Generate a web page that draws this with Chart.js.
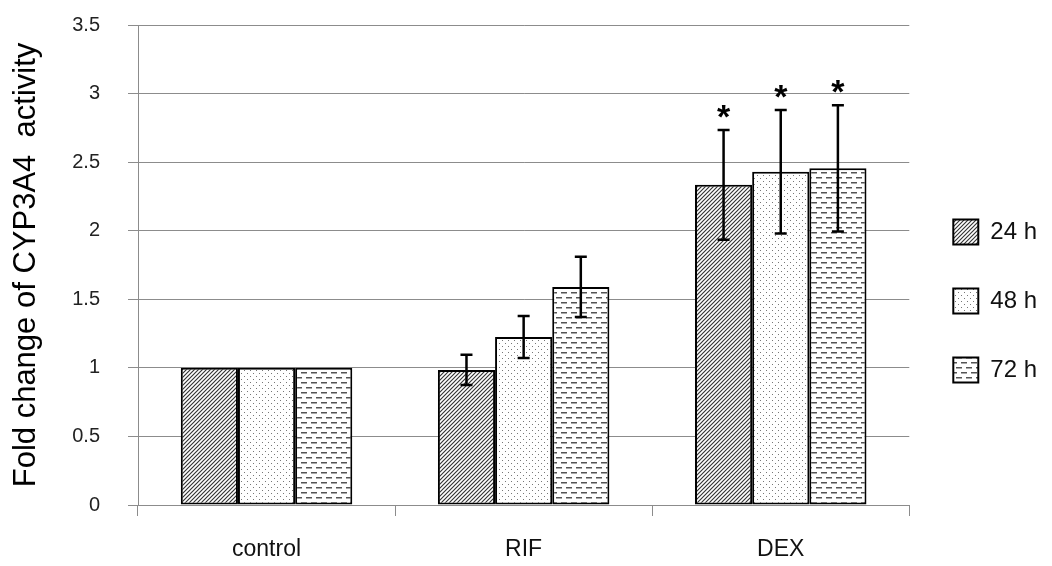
<!DOCTYPE html>
<html>
<head>
<meta charset="utf-8">
<title>CYP3A4 activity</title>
<script src="https://cdn.jsdelivr.net/npm/chart.js@4.4.1/dist/chart.umd.min.js"></script>
<style>
    html, body { margin: 0; padding: 0; background: #fff; }
    #wrap { width: 1052px; height: 566px; }
</style>
</head>
<body>
<div id="wrap"><canvas id="activityChart" width="1052" height="566"></canvas></div>
<script>
// Fold change of CYP3A4 activity per treatment and time point
const categories = ['control', 'RIF', 'DEX'];
const seriesLabels = ['24 h', '48 h', '72 h'];
const values24 = [1, 0.985, 2.335];
const values48 = [1, 1.225, 2.43];
const values72 = [1, 1.59, 2.455];
const errors24 = [0, 0.11, 0.40];
const errors48 = [0, 0.153, 0.45];
const errors72 = [0, 0.22, 0.46];
const stars24 = [false, false, true];
const stars48 = [false, false, true];
const stars72 = [false, false, true];
const yTicks = [0, 0.5, 1, 1.5, 2, 2.5, 3, 3.5];

const FONT = "'Liberation Sans', Arial, sans-serif";

// Fill patterns for the bars (hatch / dots / dashes)
function makePattern(kind) {
    const c = document.createElement('canvas');
    const ctx = c.getContext('2d');
    if (kind === 'hatch') {
        c.width = 4; c.height = 4;
        ctx.fillStyle = '#fff';
        ctx.fillRect(0, 0, 4, 4);
        ctx.strokeStyle = '#333';
        ctx.lineWidth = 1.15;
        ctx.beginPath();
        ctx.moveTo(-1, 5); ctx.lineTo(5, -1);
        ctx.moveTo(-1, 1); ctx.lineTo(1, -1);
        ctx.moveTo(3, 5); ctx.lineTo(5, 3);
        ctx.stroke();
    } else if (kind === 'dots') {
        c.width = 6; c.height = 6;
        ctx.fillStyle = '#fff';
        ctx.fillRect(0, 0, 6, 6);
        ctx.fillStyle = '#777';
        ctx.fillRect(1, 1, 1, 1);
        ctx.fillRect(4, 4, 1, 1);
    } else {
        c.width = 10; c.height = 10;
        ctx.fillStyle = '#fff';
        ctx.fillRect(0, 0, 10, 10);
        ctx.fillStyle = '#555';
        ctx.fillRect(1, 2, 6, 1.5);
        ctx.fillRect(6, 7, 6, 1.5);
        ctx.fillRect(-4, 7, 6, 1.5);
    }
    return ctx.createPattern(c, 'repeat');
}

const errorsBySeries = [errors24, errors48, errors72];
const starsBySeries = [stars24, stars48, stars72];

// Error bars and significance stars, placed through the y scale
const errorBarPlugin = {
    id: 'errorBars',
    afterDatasetsDraw(chart) {
        const ctx = chart.ctx;
        const yScale = chart.scales.y;
        ctx.save();
        chart.data.datasets.forEach((ds, di) => {
            const meta = chart.getDatasetMeta(di);
            meta.data.forEach((bar, i) => {
                const err = errorsBySeries[di][i];
                const v = ds.data[i];
                const x = bar.x;
                const yTop = yScale.getPixelForValue(v + err);
                if (err > 0) {
                    const yBot = yScale.getPixelForValue(v - err);
                    ctx.strokeStyle = '#000';
                    ctx.lineWidth = 2.5;
                    ctx.beginPath();
                    ctx.moveTo(x, yTop); ctx.lineTo(x, yBot);
                    ctx.moveTo(x - 6, yTop); ctx.lineTo(x + 6, yTop);
                    ctx.moveTo(x - 6, yBot); ctx.lineTo(x + 6, yBot);
                    ctx.stroke();
                }
                if (starsBySeries[di][i]) {
                    ctx.fillStyle = '#000';
                    ctx.font = 'bold 34px ' + FONT;
                    ctx.textAlign = 'center';
                    ctx.textBaseline = 'alphabetic';
                    ctx.fillText('*', x, yTop - 2);
                }
            });
        });
        ctx.restore();
    }
};

const fills = [makePattern('hatch'), makePattern('dots'), makePattern('dashes')];
const seriesValues = [values24, values48, values72];

const chart = new Chart(document.getElementById('activityChart'), {
    type: 'bar',
    data: {
        labels: categories,
        datasets: seriesLabels.map((label, k) => ({
            label: label,
            data: seriesValues[k],
            backgroundColor: fills[k],
            borderColor: '#000',
            borderWidth: 2,
            borderSkipped: false,
            barPercentage: 1,
            categoryPercentage: 0.667
        }))
    },
    options: {
        responsive: false,
        animation: false,
        layout: {
            padding: { left: 8, right: 5, top: 25, bottom: 0 }
        },
        plugins: {
            tooltip: { enabled: false },
            legend: {
                position: 'right',
                // empty title just pushes the items down a little
                title: {
                    display: true,
                    text: ' ',
                    padding: 0,
                    font: { family: FONT, size: 9 }
                },
                labels: {
                    boxWidth: 25,
                    boxHeight: 25,
                    padding: 44,
                    color: '#111',
                    font: { family: FONT, size: 24 }
                }
            }
        },
        scales: {
            x: {
                afterFit(scale) {
                    scale.height = 61;
                },
                grid: {
                    drawOnChartArea: false,
                    drawTicks: true,
                    tickLength: 11,
                    color: '#8c8c8c'
                },
                border: { color: '#8c8c8c', width: 1 },
                ticks: {
                    color: '#111',
                    padding: 20,
                    font: { family: FONT, size: 23 }
                }
            },
            y: {
                min: 0,
                max: 3.5,
                afterBuildTicks(scale) {
                    scale.ticks = yTicks.map(v => ({ value: v }));
                },
                afterFit(scale) {
                    scale.width = 130;
                    scale.paddingTop = 0;
                    scale.paddingBottom = 0;
                },
                grid: {
                    color: '#8c8c8c',
                    tickLength: 10
                },
                border: { color: '#8c8c8c', width: 1 },
                ticks: {
                    color: '#222',
                    padding: 28,
                    font: { family: FONT, size: 20 },
                    callback: (value) => String(value)
                },
                title: {
                    display: true,
                    text: 'Fold change of CYP3A4  activity',
                    color: '#000',
                    padding: { top: 0, bottom: 0 },
                    font: { family: FONT, size: 31 }
                }
            }
        }
    },
    plugins: [errorBarPlugin]
});
</script>
</body>
</html>
